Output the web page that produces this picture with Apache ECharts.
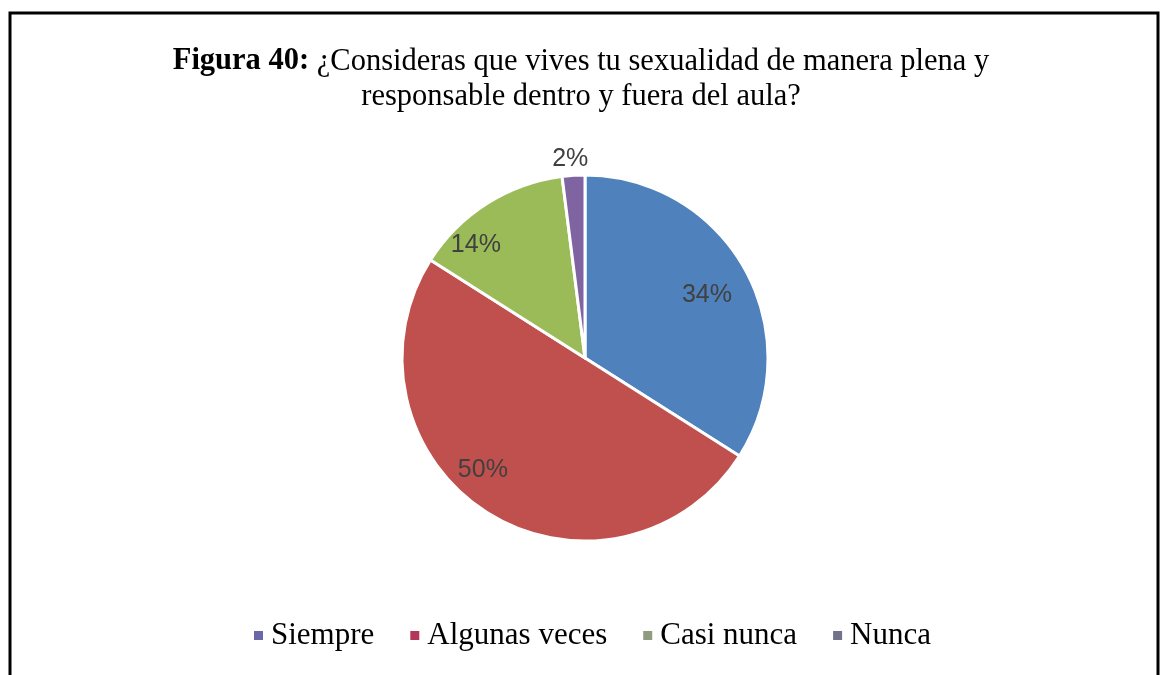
<!DOCTYPE html>
<html>
<head>
<meta charset="utf-8">
<script src="https://cdn.jsdelivr.net/npm/echarts@6/dist/echarts.min.js"></script>
<style>
  html, body { margin: 0; padding: 0; background: #fff; }
  #chart { width: 1162px; height: 675px; }
</style>
</head>
<body>
<div id="chart"></div>
<script>
// respuestas y porcentajes
var categorias = ['Siempre', 'Algunas veces', 'Casi nunca', 'Nunca'];
var valores = [34, 50, 14, 2];
var colores = ['#4f81bd', '#c0504d', '#9bbb59', '#8064a2'];
// colores de los cuadritos de la leyenda (salen distintos en la imagen)
var coloresLeyenda = ['#6b68a6', '#b4365b', '#8f9b7f', '#72738a'];

var R = 183;
var centro = [585, 358];
// pequeño ajuste de las etiquetas como las coloca Excel
var ajusteEtiqueta = [[-1, 5], [-27, -6], [-34, 6], [20, -12]];

var datos = categorias.map(function (c, i) {
    return { name: c, value: valores[i], itemStyle: { color: colores[i] } };
});
// capa transparente solo para poner las etiquetas a 3/4 del radio
var etiquetas = categorias.map(function (c, i) {
    var d = { name: c, value: valores[i] };
    if (valores[i] < 5) {
        d.label = { position: 'outside' };
    }
    return d;
});

var option = {
    animation: false,
    backgroundColor: '#fff',
    title: {
        text: '{b|Figura 40:} ¿Consideras que vives tu sexualidad de manera plena y\nresponsable dentro y fuera del aula?',
        left: 'center',
        top: 39,
        textStyle: {
            fontFamily: 'Liberation Serif',
            fontSize: 30.5,
            fontWeight: 'normal',
            color: '#000',
            lineHeight: 35,
            rich: {
                b: { fontFamily: 'Liberation Serif', fontSize: 30.5, fontWeight: 'bold', color: '#000' }
            }
        }
    },
    legend: {
        bottom: 19,
        left: 247,
        icon: 'rect',
        itemWidth: 11,
        itemHeight: 11,
        itemGap: 34,
        textStyle: { fontFamily: 'Liberation Serif', fontSize: 31, color: '#000', padding: [0, 0, 0, 2] },
        data: categorias.map(function (c, i) {
            return { name: c, itemStyle: { color: coloresLeyenda[i] } };
        })
    },
    graphic: [{
        type: 'rect',
        shape: { x: 10, y: 13, width: 1148, height: 720 },
        style: { fill: null, stroke: '#000', lineWidth: 3 },
        silent: true
    }],
    series: [{
        type: 'pie',
        center: centro,
        radius: R,
        startAngle: 90,
        clockwise: true,
        itemStyle: { borderColor: '#fff', borderWidth: 3 },
        label: { show: false },
        labelLine: { show: false },
        emphasis: { disabled: true },
        data: datos
    }, {
        type: 'pie',
        center: centro,
        radius: [R / 2, R],
        startAngle: 90,
        clockwise: true,
        silent: true,
        itemStyle: { color: 'transparent' },
        label: {
            show: true,
            position: 'inside',
            formatter: '{c}%',
            fontFamily: 'Liberation Sans',
            fontSize: 25,
            color: '#404040'
        },
        labelLine: { show: false, length: 4, length2: 0 },
        labelLayout: function (p) {
            var a = ajusteEtiqueta[p.dataIndex];
            return { dx: a[0], dy: a[1] };
        },
        emphasis: { disabled: true },
        data: etiquetas
    }]
};

var chart = echarts.init(document.getElementById('chart'));
chart.setOption(option);
</script>
</body>
</html>
